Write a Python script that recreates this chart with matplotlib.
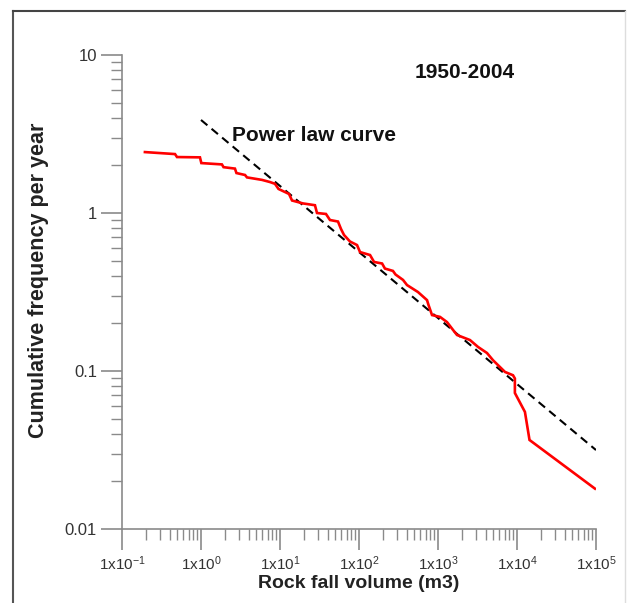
import numpy as np
import matplotlib.pyplot as plt
from matplotlib.lines import Line2D
from matplotlib.ticker import LogLocator, FixedLocator, NullFormatter

plt.rcParams['font.family'] = ['Liberation Sans', 'DejaVu Sans']
plt.rcParams['mathtext.fontset'] = 'custom'
plt.rcParams['mathtext.rm'] = 'Liberation Sans'

# rock fall volume (m3) vs cumulative frequency per year, 1950-2004
volume = [0.195, 0.469, 0.497, 0.97, 1.01, 1.84, 1.93, 2.69, 2.81, 3.61, 3.82,
          5.92, 7.47, 8.64, 9.57, 13.0, 14.2, 19.5, 27.7, 29.4, 38.2, 42.9,
          54.2, 59.2, 64.6, 76.9, 94.4, 103, 138, 155, 196, 213, 269, 290,
          361, 405, 558, 726, 758, 840, 1060, 1300, 1549, 1740, 2540, 3210,
          4170, 4970, 7050, 8900, 9400, 9400, 12600, 14400, 97100]
freq = [2.43, 2.36, 2.26, 2.25, 2.07, 2.03, 1.95, 1.91, 1.79, 1.74, 1.68,
        1.62, 1.57, 1.53, 1.42, 1.32, 1.20, 1.15, 1.12, 1.00, 0.986, 0.903,
        0.883, 0.792, 0.726, 0.66, 0.627, 0.566, 0.542, 0.49, 0.479, 0.445,
        0.43, 0.408, 0.377, 0.35, 0.316, 0.281, 0.262, 0.226, 0.22, 0.204,
        0.182, 0.169, 0.157, 0.142, 0.13, 0.117, 0.0986, 0.094, 0.0897,
        0.0726, 0.0551, 0.0366, 0.018]

# power law fit endpoints
fit_x = [1, 1e5]
fit_y = [3.88, 0.0316]

xticks = [1e-1, 1e0, 1e1, 1e2, 1e3, 1e4, 1e5]
xlabels = [r'$\mathregular{1x10^{-1}}$', r'$\mathregular{1x10^{0}}$', r'$\mathregular{1x10^{1}}$',
           r'$\mathregular{1x10^{2}}$', r'$\mathregular{1x10^{3}}$', r'$\mathregular{1x10^{4}}$',
           r'$\mathregular{1x10^{5}}$']
yticks = [0.01, 0.1, 1, 10]
ylabels = ['0.01', '0.1', '1', '10']

fig = plt.figure(figsize=(6.27, 6.03), dpi=100)
ax = fig.add_axes([122/627, 1-529/603, 474/627, 474/603])

ax.plot(volume, freq, color='#ff0000', lw=1.9, solid_joinstyle='miter', zorder=3)
ax.plot(fit_x, fit_y, color='black', lw=1.5, dashes=(4, 2.6), zorder=2)

ax.set_xscale('log')
ax.set_yscale('log')
ax.set_xlim(1e-1, 1e5)
ax.set_ylim(0.01, 10)

ax.xaxis.set_major_locator(FixedLocator(xticks))
ax.set_xticklabels(xlabels)
ax.yaxis.set_major_locator(FixedLocator(yticks))
ax.set_yticklabels(ylabels)
ax.xaxis.set_minor_locator(LogLocator(base=10, subs=np.arange(2, 10)))
ax.yaxis.set_minor_locator(LogLocator(base=10, subs=np.arange(2, 10)))
ax.xaxis.set_minor_formatter(NullFormatter())
ax.yaxis.set_minor_formatter(NullFormatter())

for s in ['top', 'right']:
    ax.spines[s].set_visible(False)
for s in ['left', 'bottom']:
    ax.spines[s].set_color('#8a8a8a')
    ax.spines[s].set_linewidth(1.2)

ax.tick_params(which='major', direction='out', length=15, width=1.2, color='#8a8a8a',
               labelcolor='#333333')
ax.tick_params(which='minor', direction='out', length=8, width=1.0, color='#8a8a8a')
ax.tick_params(axis='y', which='major', labelsize=12, pad=3)
ax.tick_params(axis='x', which='major', labelsize=11, pad=3)

ax.set_xlabel('Rock fall volume (m3)', fontsize=14, fontweight='bold', color='#222222', labelpad=2)
ax.set_ylabel('Cumulative frequency per year', fontsize=15.5, fontweight='bold', color='#222222')
ax.yaxis.set_label_coords(-0.153, 0.525)

ax.text(0.724, 0.964, '1950-2004', transform=ax.transAxes, ha='center', va='center',
        fontsize=15, fontweight='bold', color='#111111')
ax.text(0.232, 0.831, 'Power law curve', transform=ax.transAxes, ha='left', va='center',
        fontsize=15, fontweight='bold', color='#111111')

# outer frame of the original figure
fig.add_artist(Line2D([13/627, 13/627], [0, 1-11/603], color='#555555', lw=1.5))
fig.add_artist(Line2D([13/627, 625/627], [1-11/603, 1-11/603], color='#444444', lw=1.5))
fig.add_artist(Line2D([625/627, 625/627], [0, 1-11/603], color='#dddddd', lw=1.0))

fig.savefig('out.png', dpi=100)
